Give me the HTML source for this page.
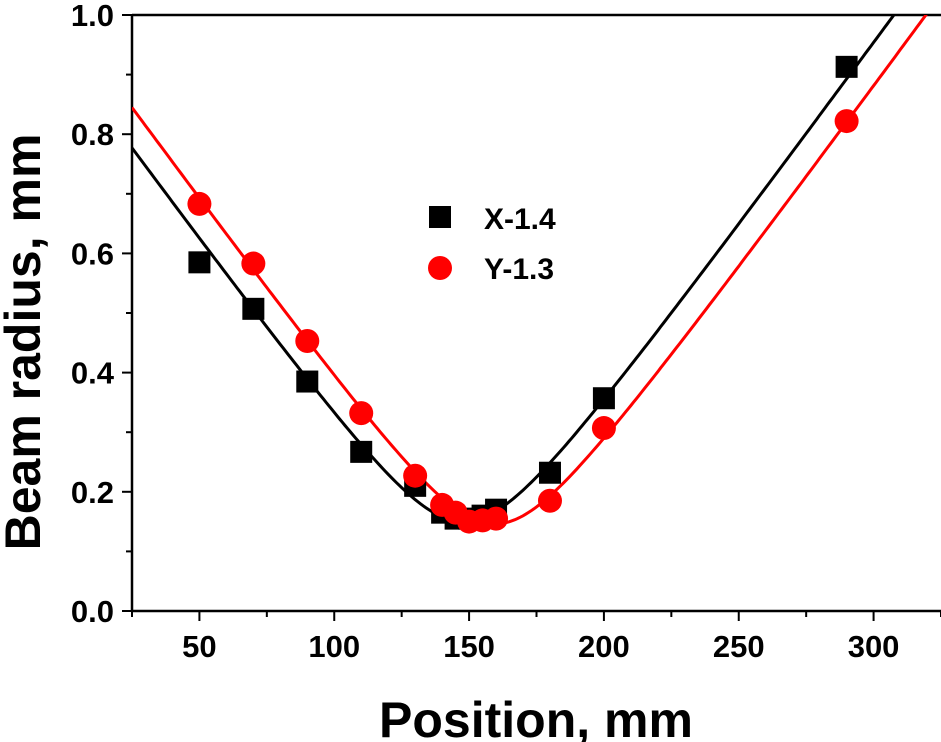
<!DOCTYPE html>
<html><head><meta charset="utf-8"><style>
html,body{margin:0;padding:0;background:#fff;}
svg{display:block;font-family:"Liberation Sans",Arial,sans-serif;font-weight:bold;}
</style></head><body>
<svg id="chart" width="941" height="742" viewBox="0 0 941 742" xmlns="http://www.w3.org/2000/svg">
<g id="axes"></g>
<g id="marks"></g>
<text x="536" y="737" font-size="50" text-anchor="middle">Position, mm</text>
<text transform="translate(40,342) rotate(-90)" font-size="50" text-anchor="middle">Beam radius, mm</text>
</svg>
<script>
const xTicks=[50,100,150,200,250,300];
const yTicks=[0.0,0.2,0.4,0.6,0.8,1.0];
const yTickLabels=["0.0","0.2","0.4","0.6","0.8","1.0"];
const posX=[50,70,90,110,130,140,145,150,155,160,180,200,290];
const radX=[0.585,0.507,0.385,0.267,0.21,0.165,0.155,0.155,0.16,0.17,0.232,0.357,0.913];
const posY=[50,70,90,110,130,140,145,150,155,160,180,200,290];
const radY=[0.683,0.583,0.453,0.332,0.227,0.178,0.165,0.15,0.152,0.155,0.185,0.307,0.822];
const fitX=[0.15,148,24.2];
const fitY=[0.146,159.5,23.6];
const NS="http://www.w3.org/2000/svg";
const L=132,R=941,T=15,B=611,X0=25,X1=325;
const sx=v=>L+(v-X0)*(R-L)/(X1-X0);
const sy=v=>B-v*(B-T);
function mk(tag,attrs,parent){const e=document.createElementNS(NS,tag);for(const k in attrs)e.setAttribute(k,attrs[k]);parent.appendChild(e);return e;}
const ax=document.getElementById('axes'),mg=document.getElementById('marks');
let e;
e=mk('line',{x1:L,y1:B,x2:R,y2:B,stroke:'#000','stroke-width':2.5},ax);


e=mk('line',{x1:L,y1:T,x2:R,y2:T,stroke:'#000','stroke-width':2.5},ax);


e=mk('line',{x1:L,y1:T,x2:L,y2:B,stroke:'#000','stroke-width':2.5},ax);


for(let v=X0;v<=X1;v+=25){const major=v%50===0;
 e=mk('line',{x1:sx(v),y1:B,x2:sx(v),y2:B+(major?10:6),stroke:'#000','stroke-width':2},ax);
 
 }
xTicks.forEach(v=>{e=mk('text',{x:sx(v),y:B+46,'font-size':31,'text-anchor':'middle'},ax);e.textContent=v;
 
 });
for(let i=0;i<=10;i++){const v=i/10;const major=i%2===0;
 e=mk('line',{x1:L,y1:sy(v),x2:L-(major?10:6),y2:sy(v),stroke:'#000','stroke-width':2},ax);
 
 }
yTicks.forEach((v,i)=>{e=mk('text',{x:L-18,y:sy(v)+11,'font-size':31,'text-anchor':'end'},ax);e.textContent=yTickLabels[i];
 
 });
const clip=mk('clipPath',{id:'pc'},mg);mk('rect',{x:L,y:T,width:R-L,height:B-T},clip);
function fitPath(p,col,name){let d='';for(let z=X0;z<=X1;z+=1){const w=p[0]*Math.sqrt(1+((z-p[1])/p[2])**2);d+=(z===X0?'M':'L')+sx(z).toFixed(1)+','+sy(w).toFixed(1);}
 e=mk('path',{d:d,fill:'none',stroke:col,'stroke-width':3,'clip-path':'url(#pc)'},mg);
 
 }
fitPath(fitX,'#000','fit-line-x');
fitPath(fitY,'#f00','fit-line-y');
posX.forEach((z,i)=>{e=mk('rect',{x:sx(z)-11,y:sy(radX[i])-11,width:22,height:22,fill:'#000'},mg);
 
 });
posY.forEach((z,i)=>{e=mk('circle',{cx:sx(z),cy:sy(radY[i]),r:12,fill:'#f00'},mg);
 
 });
e=mk('rect',{x:429,y:206,width:22,height:22,fill:'#000'},mg);


e=mk('text',{x:484,y:229,'font-size':30},mg);e.textContent='X-1.4';


e=mk('circle',{cx:440,cy:268,r:12,fill:'#f00'},mg);


e=mk('text',{x:484,y:279,'font-size':30},mg);e.textContent='Y-1.3';


</script>
</body></html>
